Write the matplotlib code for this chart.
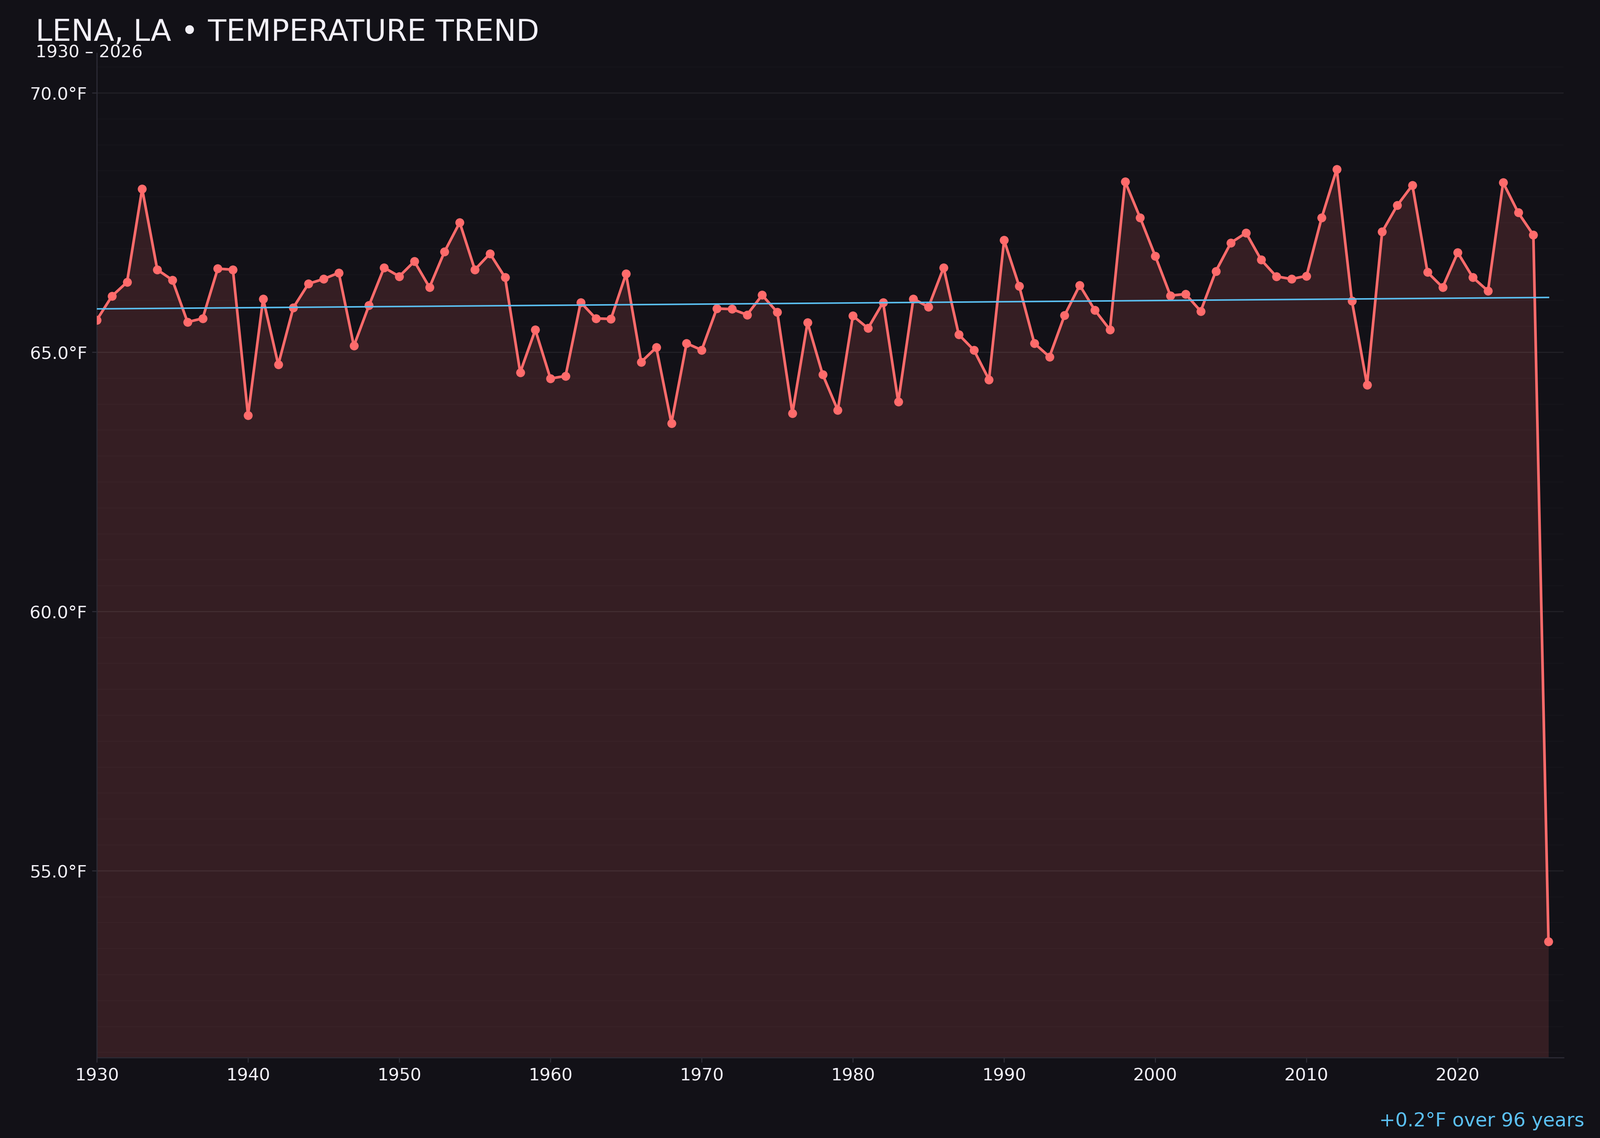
import numpy as np
import matplotlib
matplotlib.use("Agg")
import matplotlib.pyplot as plt
from matplotlib.ticker import MultipleLocator

# ---- data ----
years = list(range(1930, 2027))
temps = [
    65.62, 66.08, 66.35, 68.15, 66.59, 66.39, 65.58, 65.65, 66.61, 66.59,
    63.78, 66.03, 64.76, 65.86, 66.32, 66.41, 66.53, 65.12, 65.90, 66.63,
    66.46, 66.75, 66.25, 66.94, 67.50, 66.59, 66.90, 66.44, 64.61, 65.43,
    64.49, 64.54, 65.96, 65.65, 65.64, 66.51, 64.81, 65.09, 63.63, 65.17,
    65.04, 65.84, 65.83, 65.72, 66.10, 65.77, 63.82, 65.57, 64.57, 63.88,
    65.70, 65.46, 65.96, 64.04, 66.03, 65.87, 66.63, 65.34, 65.04, 64.47,
    67.16, 66.27, 65.17, 64.91, 65.71, 66.29, 65.81, 65.43, 68.29, 67.59,
    66.85, 66.09, 66.12, 65.79, 66.56, 67.11, 67.30, 66.78, 66.46, 66.41,
    66.47, 67.59, 68.53, 65.99, 64.37, 67.32, 67.83, 68.22, 66.54, 66.25,
    66.92, 66.44, 66.18, 68.27, 67.69, 67.26, 53.63,
]
xticks = [1930, 1940, 1950, 1960, 1970, 1980, 1990, 2000, 2010, 2020]
yticks = [55, 60, 65, 70]
title = "LENA, LA \u2022 TEMPERATURE TREND"
subtitle = "1930 \u2013 2026"

# ---- style ----
BG = "#121117"
LINE = "#ff6b6b"
TREND = "#5bc0f2"
TEXT = "#f2f0f7"
SPINE = "#2c2b35"

plt.rcParams['font.family'] = ['DejaVu Sans']

x = np.array(years, dtype=float)
y = np.array(temps, dtype=float)

fig = plt.figure(figsize=(16, 11.376), dpi=250, facecolor=BG)
ax = fig.add_axes([0.0605, 0.0707, 0.91675, 0.88255])
ax.set_facecolor(BG)

rng = y.max() - y.min()
ylo, yhi = y.min() - 0.15 * rng, y.max() + 0.15 * rng
ax.set_ylim(ylo, yhi)
ax.set_xlim(1930, 2027)

# grid
ax.yaxis.set_minor_locator(MultipleLocator(0.5))
ax.grid(axis='y', which='major', color='white', alpha=0.07, lw=0.8, zorder=0)
ax.grid(axis='y', which='minor', color='white', alpha=0.014, lw=0.8, zorder=0)
ax.tick_params(axis='y', which='minor', length=0)

ax.fill_between(x, y, ylo, color=LINE, alpha=0.15, lw=0, zorder=1)
ax.plot(x, y, color=LINE, lw=1.9, marker='o', ms=5.4, zorder=3)

coef = np.polyfit(x, y, 1)
trend = np.polyval(coef, x)
ax.plot(x, trend, color=TREND, lw=1.1, zorder=4)
change = trend[-1] - trend[0]
span = int(x[-1] - x[0])

ax.set_xticks(xticks)
ax.set_yticks(yticks)
ax.set_yticklabels([f"{v:.1f}\u00b0F" for v in yticks])
ax.tick_params(axis='both', which='major', colors=SPINE, labelcolor=TEXT,
               labelsize=12.5, length=3.5, width=0.8)
for s in ['top', 'right']:
    ax.spines[s].set_visible(False)
for s in ['left', 'bottom']:
    ax.spines[s].set_color(SPINE)
    ax.spines[s].set_linewidth(0.8)

fig.text(0.0222, 0.9641, title, fontsize=21.6, color=TEXT, ha='left', va='baseline')
fig.text(0.0222, 0.9494, subtitle, fontsize=12.4, color=TEXT, ha='left', va='baseline')
fig.text(0.9902, 0.0102, f"{change:+.1f}\u00b0F over {span} years", fontsize=13.8,
         color=TREND, ha='right', va='baseline')

fig.savefig("out.png", dpi=250, facecolor=BG)
